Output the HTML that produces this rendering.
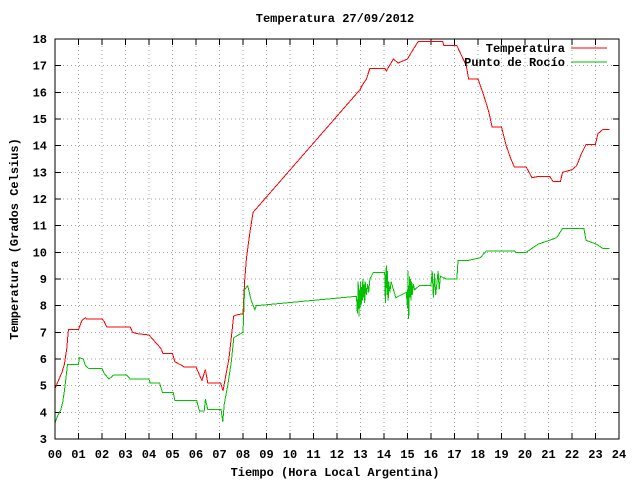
<!DOCTYPE html>
<html><head><meta charset="utf-8"><style>
body{margin:0;background:#fff}
svg text{font-family:"Liberation Mono",monospace;font-weight:bold;font-size:12px;fill:#000}
</style></head><body>
<svg id="c" width="640" height="480" xmlns="http://www.w3.org/2000/svg">
<rect width="640" height="480" fill="#fff"/>
<text x="335" y="22" text-anchor="middle">Temperatura 27/09/2012</text>
<text x="335" y="476" text-anchor="middle">Tiempo (Hora Local Argentina)</text>
<text transform="translate(18,239) rotate(-90)" text-anchor="middle">Temperatura (Grados Celsius)</text>
<g id="grid"></g>
<g id="ticks"></g>
<g id="series"></g>
<rect x="55" y="39" width="564" height="400" fill="none" stroke="#000" stroke-width="1" shape-rendering="crispEdges"/>
<g>
<text x="565" y="52" text-anchor="end">Temperatura</text>
<line x1="571" y1="48" x2="607" y2="48" stroke="#ff0000" shape-rendering="crispEdges"/>
<text x="565" y="66" text-anchor="end">Punto de Rocío</text>
<line x1="571" y1="62" x2="607" y2="62" stroke="#00c000" shape-rendering="crispEdges"/>
</g>
</svg>
<script>
const xTicks=["00","01","02","03","04","05","06","07","08","09","10","11","12","13","14","15","16","17","18","19","20","21","22","23","24"];
const yTicks=[3,4,5,6,7,8,9,10,11,12,13,14,15,16,17,18];
const tempHours=[0,0.05,0.15,0.3,0.4,0.5,0.57,1.0,1.15,1.3,1.35,2.0,2.1,2.2,3.2,3.3,3.5,4.0,4.1,4.3,4.5,4.6,5.0,5.1,5.3,5.5,6.0,6.15,6.25,6.4,6.5,7.05,7.15,7.25,7.4,7.5,7.6,7.7,8.0,8.07,8.15,8.3,8.43,12.98,13.1,13.25,13.4,14.03,14.1,14.4,14.6,15.0,15.2,15.45,16.5,16.55,17.1,17.5,17.6,18.0,18.2,18.45,18.6,19.0,19.2,19.4,19.55,20.05,20.3,20.6,21.05,21.2,21.5,21.6,22.0,22.2,22.4,22.6,23.0,23.1,23.3,23.6];
const tempValues=[4.9,5.0,5.2,5.5,5.8,6.4,7.1,7.1,7.45,7.55,7.5,7.5,7.4,7.2,7.2,7.0,6.95,6.9,6.8,6.6,6.4,6.2,6.2,5.9,5.8,5.7,5.7,5.4,5.2,5.6,5.1,5.1,4.8,5.3,6.0,6.8,7.6,7.65,7.7,8.9,9.8,10.8,11.5,16.1,16.3,16.5,16.9,16.9,16.8,17.25,17.1,17.25,17.55,17.9,17.9,17.75,17.75,17.0,16.5,16.5,16.0,15.3,14.7,14.7,14.0,13.5,13.2,13.2,12.8,12.85,12.85,12.65,12.65,13.0,13.1,13.25,13.7,14.05,14.05,14.45,14.6,14.6];
const dewHours=[0,0.1,0.25,0.33,0.4,0.47,0.53,1.0,1.03,1.2,1.3,1.43,2.0,2.1,2.3,2.5,3.05,3.2,4.0,4.05,4.45,4.57,5.03,5.1,6.03,6.07,6.15,6.35,6.4,6.5,7.07,7.14,7.2,7.35,7.5,7.61,8.0,8.07,8.2,8.35,8.5,8.57,9.2,12.83,12.87,12.9,12.93,12.95,12.98,13.0,13.03,13.05,13.08,13.1,13.13,13.15,13.18,13.2,13.25,13.3,13.35,13.4,13.55,14.03,14.06,14.1,14.13,14.15,14.18,14.2,14.25,14.3,14.5,14.95,15.0,15.02,15.05,15.08,15.1,15.12,15.15,15.18,15.2,15.25,15.3,15.5,16.0,16.05,16.1,16.15,16.2,16.3,16.35,16.4,16.65,17.1,17.15,17.6,18.1,18.35,19.55,19.6,20.05,20.55,21.35,21.6,22.5,22.6,23.05,23.3,23.6];
const dewValues=[3.6,3.85,4.1,4.4,4.8,5.3,5.8,5.8,6.05,6.0,5.75,5.65,5.65,5.45,5.25,5.4,5.4,5.25,5.25,5.1,5.1,4.75,4.75,4.45,4.45,4.3,4.05,4.05,4.5,4.1,4.1,3.65,4.3,5.0,5.9,6.8,7.0,8.6,8.75,8.2,7.85,8.0,8.05,8.35,7.7,8.9,7.6,8.6,7.9,8.9,8.0,8.7,8.2,9.0,8.3,8.8,8.1,8.9,8.4,8.8,8.5,9.0,9.25,9.25,8.1,9.5,8.4,9.3,8.2,8.9,8.5,8.9,8.3,8.5,7.9,9.3,7.5,9.1,8.3,9.0,8.2,8.9,8.4,8.8,8.6,8.75,8.75,9.3,8.3,9.2,8.4,9.3,8.6,9.1,9.0,9.0,9.7,9.7,9.8,10.05,10.05,10.0,10.0,10.3,10.55,10.9,10.9,10.45,10.3,10.15,10.15];
const X0=55,X1=619,Y0=439,Y1=39;
const xs=h=>X0+h*(X1-X0)/24;
const ys=v=>Y0-(v-3)*(Y0-Y1)/15;
const NS="http://www.w3.org/2000/svg";
function mk(t,a,p){const e=document.createElementNS(NS,t);for(const k in a)e.setAttribute(k,a[k]);p.appendChild(e);return e;}
const grid=document.getElementById('grid'),ticks=document.getElementById('ticks'),series=document.getElementById('series');
xTicks.forEach((l,i)=>{const x=xs(i);
 if(i>0&&i<24){const g=mk('line',{x1:x,y1:Y0,x2:x,y2:Y1,stroke:'#a0a0a0','stroke-dasharray':'1,3','shape-rendering':'crispEdges'},grid);
 
 }
 const t1=mk('line',{x1:x,y1:Y0,x2:x,y2:Y0-6,stroke:'#000','shape-rendering':'crispEdges'},ticks);
 
 
 const t2=mk('line',{x1:x,y1:Y1,x2:x,y2:Y1+6,stroke:'#000','shape-rendering':'crispEdges'},ticks);
 
 
 const tx=mk('text',{x:x,y:458,'text-anchor':'middle'},ticks);tx.textContent=l;
 
 });
yTicks.forEach(v=>{const y=ys(v);
 if(v>3&&v<18){const g=mk('line',{x1:X0,y1:y,x2:X1,y2:y,stroke:'#a0a0a0','stroke-dasharray':'1,3','shape-rendering':'crispEdges'},grid);
 
 }
 const t1=mk('line',{x1:X0,y1:y,x2:X0+6,y2:y,stroke:'#000','shape-rendering':'crispEdges'},ticks);
 
 
 const t2=mk('line',{x1:X1,y1:y,x2:X1-6,y2:y,stroke:'#000','shape-rendering':'crispEdges'},ticks);
 
 
 const tx=mk('text',{x:47,y:y+4,'text-anchor':'end'},ticks);tx.textContent=v;
 
 });
function linePath(hs,vs){let d='';for(let i=0;i<hs.length;i++){const x=xs(hs[i]).toFixed(1),y=ys(vs[i]).toFixed(1);d+=(i?'L':'M')+x+','+y;}return d;}
const tp=mk('path',{d:linePath(tempHours,tempValues),fill:'none',stroke:'#ff0000','stroke-width':1,'shape-rendering':'crispEdges'},series);


const dp=mk('path',{d:linePath(dewHours,dewValues),fill:'none',stroke:'#00c000','stroke-width':1,'shape-rendering':'crispEdges'},series);


</script>
</body></html>
